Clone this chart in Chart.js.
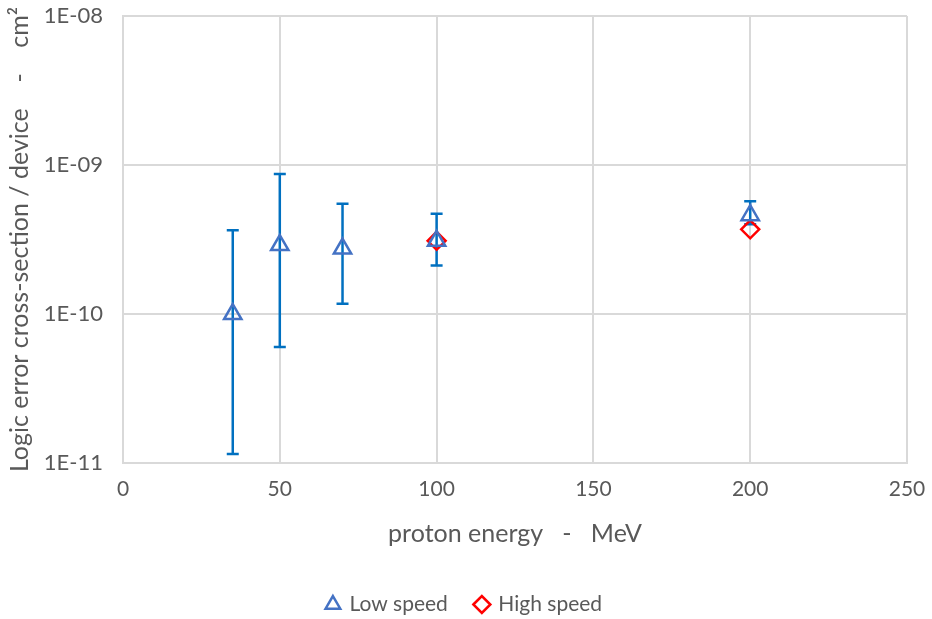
<!DOCTYPE html>
<html>
<head>
<meta charset="utf-8">
<script src="https://cdn.jsdelivr.net/npm/chart.js@4.4.1/dist/chart.umd.min.js"></script>
<style>
html,body{margin:0;padding:0;background:#fff;}
#wrap{width:932px;height:619px;position:relative;}
</style>
</head>
<body>
<div id="wrap"><canvas id="c" width="932" height="619"></canvas></div>
<script>
// ---- data ----
const energyLow = [35, 50, 70, 100, 200];
const lowSpeed = [1.0e-10, 2.9e-10, 2.75e-10, 3.1e-10, 4.6e-10];
const lowErrHigh = [3.65e-10, 8.7e-10, 5.5e-10, 4.7e-10, 5.7e-10];
const lowErrLow = [1.15e-11, 6.0e-11, 1.17e-10, 2.12e-10, 4.0e-10];
const energyHigh = [100, 200];
const highSpeed = [3.1e-10, 3.7e-10];
const yTickValues = [1e-11, 1e-10, 1e-9, 1e-8];
const yTickLabels = ['1E-11', '1E-10', '1E-09', '1E-08'];
const xTickValues = [0, 50, 100, 150, 200, 250];
const seriesNames = ['Low speed', 'High speed'];
const xTitle = 'proton energy   -   MeV';
const yTitle = 'Logic error cross-section / device    -    cm\u00B2';

const FONT = 'Lato, "Open Sans", sans-serif';
const TXT = '#595959';
const GRID = '#d9d9d9';

const errorBars = {
  id: 'errorBars',
  beforeDatasetsDraw(chart) {
    const ctx = chart.ctx, xs = chart.scales.x, ys = chart.scales.y;
    ctx.save();
    ctx.strokeStyle = '#0070C0';
    ctx.lineWidth = 2.5;
    const cap = 6;
    energyLow.forEach((e, i) => {
      const px = xs.getPixelForValue(e);
      const pt = ys.getPixelForValue(lowErrHigh[i]);
      const pb = ys.getPixelForValue(lowErrLow[i]);
      ctx.beginPath();
      ctx.moveTo(px, pt); ctx.lineTo(px, pb);
      ctx.moveTo(px - cap, pt); ctx.lineTo(px + cap, pt);
      ctx.moveTo(px - cap, pb); ctx.lineTo(px + cap, pb);
      ctx.stroke();
    });
    ctx.restore();
  }
};

const legendShift = {
  id: 'legendShift',
  afterLayout(chart) {
    if (chart.legend) { chart.legend.left += 11; chart.legend.right += 11; }
  }
};

new Chart(document.getElementById('c'), {
  type: 'scatter',
  data: {
    datasets: [
      {
        label: seriesNames[0],
        data: energyLow.map((e, i) => ({x: e, y: lowSpeed[i]})),
        pointStyle: 'triangle',
        pointRadius: 10,
        pointHoverRadius: 10,
        borderColor: '#4472C4',
        backgroundColor: 'rgba(255,255,255,0)',
        pointBorderWidth: 2.5,
        borderWidth: 2.5
      },
      {
        label: seriesNames[1],
        data: energyHigh.map((e, i) => ({x: e, y: highSpeed[i]})),
        pointStyle: 'rectRot',
        pointRadius: 9,
        pointHoverRadius: 9,
        borderColor: '#FF0000',
        backgroundColor: 'rgba(255,255,255,0)',
        pointBorderWidth: 2.5,
        borderWidth: 2.5
      }
    ]
  },
  options: {
    responsive: false,
    animation: false,
    devicePixelRatio: 1,
    layout: {padding: {top: 16, right: 25, left: 0, bottom: -6}},
    plugins: {
      legend: {
        position: 'bottom',
        labels: {
          usePointStyle: true,
          boxWidth: 12,
          boxHeight: 12,
          padding: 28,
          color: TXT,
          font: {family: FONT, size: 21}
        }
      },
      tooltip: {enabled: false}
    },
    scales: {
      x: {
        type: 'linear',
        min: 0, max: 250,
        afterBuildTicks(s) { s.ticks = xTickValues.map(v => ({value: v})); },
        ticks: {color: TXT, font: {family: FONT, size: 21}, padding: 14},
        grid: {color: GRID, lineWidth: 2, drawTicks: false},
        border: {color: GRID, width: 2},
        title: {display: true, text: xTitle, color: TXT, font: {family: FONT, size: 25}, padding: {top: 0, bottom: 17}},
        afterFit(s) { s.height = 103; s.paddingLeft = 0; s.paddingRight = 0; }
      },
      y: {
        type: 'logarithmic',
        min: 1e-11, max: 1e-8,
        afterBuildTicks(s) { s.ticks = yTickValues.map(v => ({value: v})); },
        ticks: {
          color: TXT, font: {family: FONT, size: 22}, padding: 20,
          callback(v) { const i = yTickValues.findIndex(t => Math.abs(t - v) / t < 1e-6); return i >= 0 ? yTickLabels[i] : ''; }
        },
        grid: {color: GRID, lineWidth: 2, drawTicks: false},
        border: {color: GRID, width: 2},
        title: {display: true, text: yTitle, color: TXT, font: {family: FONT, size: 25}, padding: {top: 5, bottom: 0}},
        afterFit(s) { s.width = 123; s.paddingTop = 0; s.paddingBottom = 0; }
      }
    }
  },
  plugins: [errorBars, legendShift]
});
</script>
</body>
</html>
